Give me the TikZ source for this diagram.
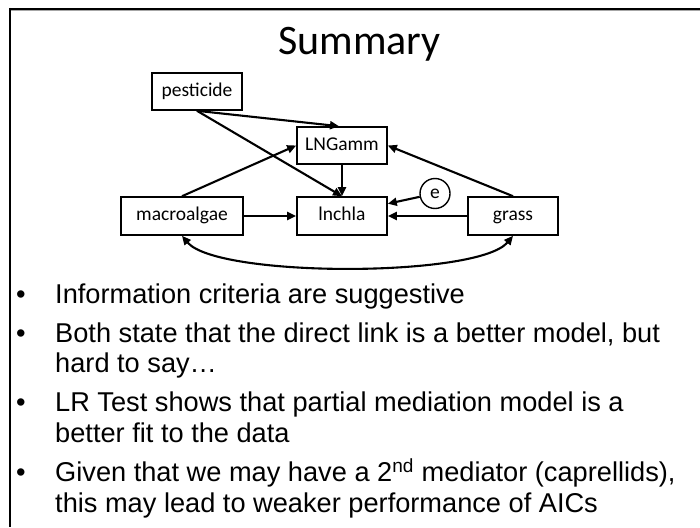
\documentclass[tikz,border=0pt]{standalone}
\usepackage{fontspec}
\setmainfont{Liberation Sans}
\newfontfamily\calibri{Carlito}
\usetikzlibrary{arrows.meta,calc}

\tikzset{
  var/.style={draw, line width=1.6pt, minimum height=37pt, inner sep=0pt,
              text height=13.5pt, text depth=4pt,
              font=\calibri\fontsize{19.5}{22}\selectfont},
  errnode/.style={draw, circle, line width=1.4pt, minimum size=30pt, inner sep=0pt,
              font=\calibri\fontsize{19.5}{22}\selectfont},
  path/.style={line width=2.1pt, -{Triangle[length=9pt,width=8pt]}},
  twoway/.style={line width=2.1pt, {Triangle[length=9pt,width=8pt]}-{Triangle[length=9pt,width=8pt]}},
  bullettext/.style={anchor=base west, inner sep=0pt,
              font=\fontsize{27.2}{30.7}\selectfont},
  bulletdot/.style={anchor=base, inner sep=0pt,
              font=\fontsize{27.2}{30.7}\selectfont}
}

\begin{document}
\begin{tikzpicture}[x=1pt, y=-1pt]
  \useasboundingbox (0,0) rectangle (700,527);
  \fill[white] (0,0) rectangle (700,527);

  % slide frame
  \draw[gray!70, line width=1pt] (11,10.6) -- (700,10.6);
  \draw[black, line width=2pt] (10,9) -- (700,9);
  \draw[black, line width=2pt] (10,8) -- (10,527);

  % title
  \node[anchor=base, inner sep=0pt, font=\calibri\fontsize{42}{48}\selectfont]
    (title) at (359.5,54) {Summary};

  % path diagram
  \node[var, minimum width=90pt]  (pest)  at (197,91.5)  {pesticide};
  \node[var, minimum width=90pt]  (lng)   at (342,145.5) {LNGamm};
  \node[var, minimum width=122pt, minimum height=38pt] (macro) at (182,216) {macroalgae};
  \node[var, minimum width=90pt, minimum height=38pt] (chla) at (342,216) {lnchla};
  \node[var, minimum width=90pt, minimum height=38pt] (grass) at (513,216) {grass};
  \node[errnode] (e) at (435,193.5) {e};

  \draw[path] (pest.south) -- ($(lng.north)+(-3,0)$);
  \draw[path] (pest.south) -- (chla.north);
  \draw[path] (macro.north) -- (lng.west);
  \draw[path] (lng.south) -- (chla.north);
  \draw[path] (grass.north) -- (lng.east);
  \draw[path] (e) -- (chla.15);
  \draw[path] (grass.west) -- (chla.east);
  \draw[path] (macro.east) -- (chla.west);
  \draw[twoway] (macro.south) .. controls ($(macro.south)+(35,42)$)
                 and ($(grass.south)+(-35,42)$) .. (grass.south);

  % bullet list
  \node[bulletdot] (d1) at (21,303) {•};
  \node[bullettext] (t1) at (55,303) {Information criteria are suggestive};
  \node[bulletdot] (d2) at (21,342) {•};
  \node[bullettext] (t2a) at (55,342) {Both state that the direct link is a better model, but};
  \node[bullettext] (t2b) at (55,372.7) {hard to say…};
  \node[bulletdot] (d3) at (21,411.7) {•};
  \node[bullettext] (t3a) at (55,411.7) {LR Test shows that partial mediation model is a};
  \node[bullettext] (t3b) at (55,442.4) {better fit to the data};
  \node[bulletdot] (d4) at (21,481.4) {•};
  \node[bullettext] (t4a) at (55,481.4) {Given that we may have a 2\textsuperscript{nd} mediator (caprellids),};
  \node[bullettext] (t4b) at (55,512) {this may lead to weaker performance of AICs};
\end{tikzpicture}
\end{document}
